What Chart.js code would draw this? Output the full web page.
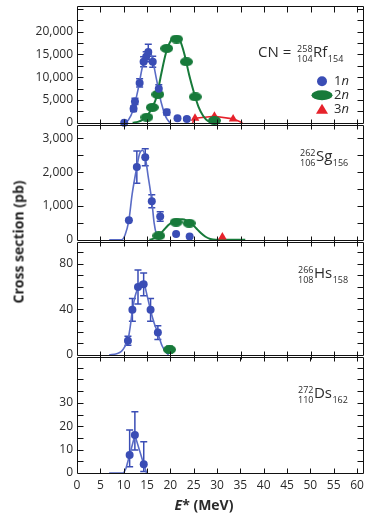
<!DOCTYPE html>
<html>
<head>
<meta charset="utf-8">
<script src="https://cdn.jsdelivr.net/npm/chart.js@4.4.0/dist/chart.umd.min.js"></script>
<style>
  body { margin: 0; background: #fff; width: 369px; height: 513px; position: relative; overflow: hidden; }
  canvas { position: absolute; left: 0; }
  #ytitle {
    position: absolute; left: 18px; top: 242px;
    transform: translate(-50%, -50%) rotate(-90deg);
    font: bold 14px "Open Sans", sans-serif; color: #222; white-space: nowrap;
  }
</style>
</head>
<body>
<canvas id="c1" width="369" height="139" style="top:-5px"></canvas>
<canvas id="c2" width="369" height="137" style="top:114px"></canvas>
<canvas id="c3" width="369" height="135" style="top:231px"></canvas>
<canvas id="c4" width="369" height="167" style="top:346px"></canvas>
<div id="ytitle">Cross section (pb)</div>
<script>
// x axis
const xTicks = [0, 5, 10, 15, 20, 25, 30, 35, 40, 45, 50, 55, 60];

// CN = 258Rf : 1n, 2n, 3n
const rfBlueE = [10.1, 12.1, 12.4, 13.4, 14.25, 14.8, 15.25, 16.2, 17.5, 19.2, 21.5, 23.5];
const rfBlueVal = [0, 3100, 4700, 8750, 13400, 14500, 15550, 13400, 7450, 2300, 1000, 860];
const rfBlueErr = [0, 600, 700, 900, 1100, 1100, 1700, 1200, 900, 600, 300, 300];
const rfGreenE = [14.95, 16.1, 17.3, 19.2, 21.3, 23.4, 25.3, 29.4];
const rfGreenVal = [1220, 3380, 6240, 16340, 18390, 13400, 5700, 500];
const rfRedE = [25.25, 29.4, 33.4];
const rfRedVal = [1000, 1450, 860];
const rfBlueFitE = [10.1, 11, 12, 13, 14, 15, 15.5, 16, 17, 18, 19, 19.9];
const rfBlueFit = [0, 600, 2800, 7000, 12300, 15600, 15800, 14600, 9600, 4500, 1300, 0];
const rfGreenFitE = [11.9, 13, 14, 15, 16, 17, 18, 19, 20, 21, 21.5, 22, 23, 24, 25, 26, 27, 28, 29, 29.6];
const rfGreenFit = [0, 200, 650, 1500, 3200, 5600, 10600, 15200, 17900, 18800, 18900, 18200, 15000, 10500, 6700, 3500, 1500, 400, 80, 0];
const rfRedFitE = [24.7, 25.25, 29.4, 33.4, 35.4];
const rfRedFit = [0, 1000, 1450, 860, 0];

// 262Sg
const sgBlueE = [11.1, 12.8, 14.6, 16.0, 17.8, 21.2, 24.1];
const sgBlueVal = [580, 2150, 2440, 1140, 690, 170, 100];
const sgBlueErr = [0, 480, 250, 190, 140, 0, 0];
const sgGreenE = [17.5, 21.2, 24.0];
const sgGreenVal = [120, 520, 490];
const sgRedE = [31.1];
const sgRedVal = [80];
const sgBlueFitE = [6.9, 9.5, 10.3, 11.1, 11.8, 12.8, 13.4, 14.0, 14.6, 15.2, 16.0, 16.5, 17.0, 17.5];
const sgBlueFit = [0, 0, 150, 580, 1350, 2150, 2550, 2650, 2450, 1900, 1150, 500, 150, 0];
const sgGreenFitE = [15.5, 16.5, 17.5, 18.5, 19.5, 20.5, 21.5, 22.5, 23.5, 24.5, 25.5, 26.5, 27.5, 28.5, 29.7, 36];
const sgGreenFit = [0, 40, 125, 280, 430, 540, 600, 610, 570, 480, 340, 200, 90, 25, 0, 0];

// 266Hs
const hsBlueE = [10.9, 11.85, 13.05, 14.26, 15.74, 17.3];
const hsBlueVal = [12.3, 39.6, 59.6, 62, 39.6, 19.5];
const hsBlueErr = [4, 10, 15, 10, 10, 6];
const hsGreenE = [19.8];
const hsGreenVal = [4.6];
const hsGreenErr = [3];
const hsBlueFitE = [6.9, 8.5, 9.5, 10.2, 10.9, 11.4, 11.85, 12.4, 13.05, 13.6, 14.26, 15.0, 15.74, 16.5, 17.3, 18.2, 19.1, 19.6];
const hsBlueFit = [0, 1, 3, 7, 13, 25, 39, 51, 59, 64, 63, 52, 39, 28, 19, 8, 2, 0];

// 272Ds
const dsBlueE = [11.28, 12.4, 14.3];
const dsBlueVal = [7.7, 16.2, 3.7];
const dsBlueErrHi = [10.7, 10, 9.7];
const dsBlueErrLo = [5, 6.4, 3.1];
const dsBlueFitE = [6.9, 10.0, 10.5, 11.28, 12.4, 14.3, 14.9];
const dsBlueFit = [0, 0, 2, 7.7, 16.2, 3.7, 0];

// y axes
const rfLabels = [0, 5000, 10000, 15000, 20000];
const sgLabels = [0, 1000, 2000, 3000];
const hsLabels = [0, 40, 80];
const dsLabels = [0, 10, 20, 30];

const BLUE = '#3a4db5';
const BLUE_LINE = '#5a6cc6';
const GREEN = '#177a3a';
const RED = '#e6222b';
const TEXT = '#2b2b2b';
const FONT = '"Open Sans", sans-serif';

function pts(xs, ys) {
  return xs.map((x, i) => ({ x: x, y: ys[i] }));
}

function ellipseCanvas(w, h, color) {
  const c = document.createElement('canvas');
  c.width = w; c.height = h;
  const g = c.getContext('2d');
  g.fillStyle = color;
  g.beginPath();
  g.ellipse(w / 2, h / 2, w / 2, h / 2, 0, 0, Math.PI * 2);
  g.fill();
  return c;
}
const greenMark = ellipseCanvas(13, 9, GREEN);

function blueDots(xs, ys, lo, hi) {
  return { data: pts(xs, ys), backgroundColor: BLUE, borderColor: BLUE, pointRadius: 4, pointBorderWidth: 0,
           errLo: lo, errHi: hi, order: 0, clip: false };
}
function greenDots(xs, ys, err) {
  return { data: pts(xs, ys), pointStyle: greenMark, backgroundColor: GREEN, borderColor: GREEN,
           errLo: err, errHi: err, order: 0, clip: false };
}
function redDots(xs, ys) {
  return { data: pts(xs, ys), pointStyle: 'triangle', pointRadius: 5, backgroundColor: RED, borderColor: RED,
           pointBorderWidth: 0, order: 0, clip: false };
}
function fit(xs, ys, color, width, smooth) {
  return { data: pts(xs, ys), showLine: true, pointRadius: 0, borderColor: color, borderWidth: width,
           tension: smooth ? 0.4 : 0, cubicInterpolationMode: smooth ? 'monotone' : 'default', order: 2, clip: false };
}

// frame + tick marks on all four sides
const framePlugin = {
  id: 'panelframe',
  afterDraw(chart) {
    const o = chart.config.options.frameOpts;
    const ctx = chart.ctx, a = chart.chartArea, x = chart.scales.x, y = chart.scales.y;
    const L = Math.round(a.left) + 0.5, R = Math.round(a.right) - 0.5;
    const T = Math.round(a.top) + 0.5, B = Math.round(a.bottom) + 0.5;
    ctx.save();
    ctx.strokeStyle = '#111';
    ctx.lineWidth = 1;
    ctx.setLineDash([]);
    ctx.beginPath();
    ctx.moveTo(L, T); ctx.lineTo(R, T); ctx.lineTo(R, B); ctx.lineTo(L, B); ctx.closePath();
    for (let v = 5; v < x.max; v += 5) {
      const px = Math.round(x.getPixelForValue(v)) + 0.5;
      ctx.moveTo(px, T); ctx.lineTo(px, T + o.topIn);
      ctx.moveTo(px, B - o.bottomIn); ctx.lineTo(px, B + o.bottomOut);
    }
    for (let v = o.minor; v < y.max - 1e-9; v += o.minor) {
      const py = Math.round(y.getPixelForValue(v)) + 0.5;
      ctx.moveTo(L, py); ctx.lineTo(L + 6, py);
      ctx.moveTo(R, py); ctx.lineTo(R - 6, py);
    }
    ctx.stroke();
    ctx.restore();
  }
};

const errorBarPlugin = {
  id: 'errbars',
  beforeDatasetsDraw(chart) {
    const ctx = chart.ctx, x = chart.scales.x, y = chart.scales.y;
    chart.data.datasets.forEach(ds => {
      if (!ds.errHi) return;
      ctx.save();
      ctx.strokeStyle = ds.borderColor;
      ctx.lineWidth = 1.5;
      ds.data.forEach((p, i) => {
        const hi = ds.errHi[i], lo = ds.errLo[i];
        if (!hi && !lo) return;
        const px = x.getPixelForValue(p.x);
        const top = y.getPixelForValue(p.y + hi);
        const bot = y.getPixelForValue(Math.max(0, p.y - lo));
        ctx.beginPath();
        ctx.moveTo(px, top); ctx.lineTo(px, bot);
        ctx.moveTo(px - 3.5, top); ctx.lineTo(px + 3.5, top);
        ctx.moveTo(px - 3.5, bot); ctx.lineTo(px + 3.5, bot);
        ctx.stroke();
      });
      ctx.restore();
    });
  }
};

function drawNuclide(ctx, x, B, n) {
  ctx.fillStyle = TEXT;
  ctx.textBaseline = 'alphabetic';
  ctx.textAlign = 'left';
  if (n.prefix) {
    ctx.font = '15px ' + FONT;
    ctx.fillText(n.prefix, x, B);
    x += ctx.measureText(n.prefix).width + 2;
  }
  ctx.font = '9px ' + FONT;
  const w = Math.max(ctx.measureText(n.a).width, ctx.measureText(n.z).width);
  ctx.textAlign = 'right';
  ctx.fillText(n.a, x + w, B - 5.5);
  ctx.fillText(n.z, x + w, B + 4.5);
  x += w + 0.5;
  ctx.textAlign = 'left';
  ctx.font = '15px ' + FONT;
  ctx.fillText(n.sym, x, B);
  x += ctx.measureText(n.sym).width + 0.5;
  ctx.font = '9px ' + FONT;
  ctx.fillText(n.n, x, B + 4.5);
}

const notesPlugin = {
  id: 'notes',
  afterDraw(chart) {
    const o = chart.config.options.noteOpts;
    const ctx = chart.ctx, a = chart.chartArea;
    ctx.save();
    if (o.nuclide) drawNuclide(ctx, a.left + o.dx, a.top + o.dy, o.nuclide);
    if (o.legend) {
      const lx = a.left + 245, tx = a.left + 257;
      const rows = [a.top + 75, a.top + 89, a.top + 103];
      ctx.fillStyle = BLUE;
      ctx.beginPath(); ctx.arc(lx, rows[0], 5, 0, Math.PI * 2); ctx.fill();
      ctx.fillStyle = GREEN;
      ctx.beginPath(); ctx.ellipse(lx, rows[1], 10.5, 5, 0, 0, Math.PI * 2); ctx.fill();
      ctx.fillStyle = RED;
      ctx.beginPath(); ctx.moveTo(lx, rows[2] - 5.5); ctx.lineTo(lx + 6, rows[2] + 4.5); ctx.lineTo(lx - 6, rows[2] + 4.5); ctx.closePath(); ctx.fill();
      ctx.fillStyle = TEXT;
      ctx.textBaseline = 'middle';
      ctx.textAlign = 'left';
      ['1', '2', '3'].forEach((d, i) => {
        ctx.font = '13px ' + FONT;
        ctx.fillText(d, tx, rows[i] + 0.5);
        const w = ctx.measureText(d).width;
        ctx.font = 'italic 13px ' + FONT;
        ctx.fillText('n', tx + w, rows[i] + 0.5);
      });
    }
    if (o.xTitle) {
      ctx.fillStyle = TEXT;
      ctx.textBaseline = 'middle';
      ctx.textAlign = 'left';
      ctx.font = 'bold italic 14px ' + FONT;
      const w1 = ctx.measureText('E').width;
      ctx.font = 'bold 14px ' + FONT;
      const rest = '* (MeV)';
      const w2 = ctx.measureText(rest).width;
      const cx = a.left + 127, cy = a.bottom + 33;
      const x0 = cx - (w1 + w2) / 2;
      ctx.font = 'bold italic 14px ' + FONT;
      ctx.fillText('E', x0, cy);
      ctx.font = 'bold 14px ' + FONT;
      ctx.fillText(rest, x0 + w1, cy);
    }
    ctx.restore();
  }
};

function panel(id, yMax, yLabels, minor, datasets, notes, last) {
  return new Chart(document.getElementById(id), {
    type: 'scatter',
    data: { datasets: datasets },
    options: {
      responsive: false,
      animation: false,
      events: [],
      frameOpts: { minor: minor, topIn: id === 'c1' ? 6 : 4, bottomIn: last ? 5 : 4, bottomOut: last ? 0 : 4 },
      noteOpts: notes,
      layout: { padding: { top: 10, bottom: last ? 0 : 10, left: 0, right: 4 } },
      scales: {
        x: {
          type: 'linear', min: 0, max: 61.4, display: last,
          afterFit: s => { s.height = last ? 40 : 0; },
          afterBuildTicks: s => { s.ticks = xTicks.map(v => ({ value: v })); },
          grid: { display: false, drawTicks: false },
          border: { display: false },
          ticks: { padding: 5, color: TEXT, font: { family: FONT, size: 12 } }
        },
        y: {
          type: 'linear', min: 0, max: yMax,
          afterFit: s => { s.width = 77; },
          afterBuildTicks: s => { s.ticks = yLabels.map(v => ({ value: v })); },
          grid: { display: false, drawTicks: false },
          border: { display: false },
          ticks: { padding: 4, color: TEXT, font: { family: FONT, size: 12 },
                   callback: v => v.toLocaleString('en-US') }
        }
      },
      plugins: {
        legend: { display: false },
        tooltip: { enabled: false }
      }
    },
    plugins: [framePlugin, errorBarPlugin, notesPlugin]
  });
}

panel('c1', 25600, rfLabels, 2500, [
  blueDots(rfBlueE, rfBlueVal, rfBlueErr, rfBlueErr),
  greenDots(rfGreenE, rfGreenVal, null),
  redDots(rfRedE, rfRedVal),
  fit(rfBlueFitE, rfBlueFit, BLUE_LINE, 1.6, true),
  fit(rfGreenFitE, rfGreenFit, GREEN, 2, true),
  fit(rfRedFitE, rfRedFit, RED, 1.6, false)
], { dx: 181, dy: 51, legend: true, nuclide: { prefix: 'CN = ', a: '258', z: '104', sym: 'Rf', n: '154' } }, false);

panel('c2', 3390, sgLabels, 500, [
  blueDots(sgBlueE, sgBlueVal, sgBlueErr, sgBlueErr),
  greenDots(sgGreenE, sgGreenVal, null),
  redDots(sgRedE, sgRedVal),
  fit(sgBlueFitE, sgBlueFit, BLUE_LINE, 1.6, true),
  fit(sgGreenFitE, sgGreenFit, GREEN, 2, true)
], { dx: 223, dy: 36, nuclide: { a: '262', z: '106', sym: 'Sg', n: '156' } }, false);

panel('c3', 99, hsLabels, 10, [
  blueDots(hsBlueE, hsBlueVal, hsBlueErr, hsBlueErr),
  greenDots(hsGreenE, hsGreenVal, hsGreenErr),
  fit(hsBlueFitE, hsBlueFit, BLUE_LINE, 1.6, true)
], { dx: 221, dy: 36, nuclide: { a: '266', z: '108', sym: 'Hs', n: '158' } }, false);

panel('c4', 49.5, dsLabels, 5, [
  blueDots(dsBlueE, dsBlueVal, dsBlueErrLo, dsBlueErrHi),
  fit(dsBlueFitE, dsBlueFit, BLUE_LINE, 1.6, false)
], { dx: 221, dy: 41, xTitle: true, nuclide: { a: '272', z: '110', sym: 'Ds', n: '162' } }, true);
</script>
</body>
</html>
